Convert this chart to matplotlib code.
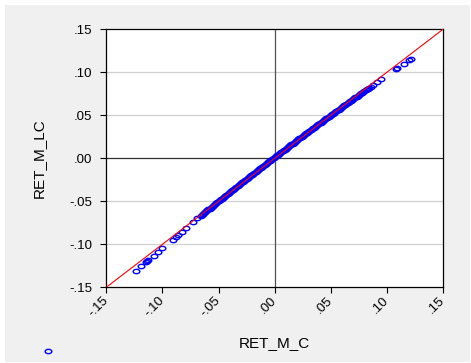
import matplotlib
matplotlib.use("Agg")
import matplotlib.pyplot as plt
from matplotlib.path import Path
from matplotlib.transforms import Affine2D
from matplotlib.patches import Rectangle

plt.rcParams["font.family"] = ["Liberation Sans", "DejaVu Sans"]

# RET_M_C (x) vs RET_M_LC (y)
# sparse tails
tail_x = [
    -0.1235, -0.1191, -0.1144, -0.1135, -0.1126, -0.1078, -0.1042, -0.1004,
    -0.0909, -0.0882, -0.0864, -0.0828, -0.0790, -0.0730, -0.0694,
    0.0857, 0.0880, 0.0915, 0.0946, 0.1079, 0.1091, 0.1153, 0.1198, 0.1218,
]
tail_y = [
    -0.1307, -0.1256, -0.1203, -0.1191, -0.1183, -0.1133, -0.1093, -0.1047,
    -0.0947, -0.0912, -0.0888, -0.0857, -0.0814, -0.0744, -0.0698,
    0.0833, 0.0856, 0.0887, 0.0919, 0.1035, 0.1047, 0.1097, 0.1143, 0.1158,
]
# dense central band
band_x = [
    -0.066, -0.065, -0.064, -0.063, -0.062, -0.061, -0.060, -0.059, -0.058,
    -0.057, -0.056, -0.055, -0.054, -0.053, -0.052, -0.051, -0.050, -0.049,
    -0.048, -0.047, -0.046, -0.045, -0.044, -0.043, -0.042, -0.041, -0.040,
    -0.039, -0.038, -0.037, -0.036, -0.035, -0.034, -0.033, -0.032, -0.031,
    -0.030, -0.029, -0.028, -0.027, -0.026, -0.025, -0.024, -0.023, -0.022,
    -0.021, -0.020, -0.019, -0.018, -0.017, -0.016, -0.015, -0.014, -0.013,
    -0.012, -0.011, -0.010, -0.009, -0.008, -0.007, -0.006, -0.005, -0.004,
    -0.003, -0.002, -0.001, 0.000, 0.001, 0.002, 0.003, 0.004, 0.005,
    0.006, 0.007, 0.008, 0.009, 0.010, 0.011, 0.012, 0.013, 0.014,
    0.015, 0.016, 0.017, 0.018, 0.019, 0.020, 0.021, 0.022, 0.023,
    0.024, 0.025, 0.026, 0.027, 0.028, 0.029, 0.030, 0.031, 0.032,
    0.033, 0.034, 0.035, 0.036, 0.037, 0.038, 0.039, 0.040, 0.041,
    0.042, 0.043, 0.044, 0.045, 0.046, 0.047, 0.048, 0.049, 0.050,
    0.051, 0.052, 0.053, 0.054, 0.055, 0.056, 0.057, 0.058, 0.059,
    0.060, 0.061, 0.062, 0.063, 0.064, 0.065, 0.066, 0.067, 0.068,
    0.069, 0.070, 0.071, 0.072, 0.073, 0.074, 0.075, 0.076, 0.077,
    0.078, 0.079, 0.080, 0.081, 0.082, 0.083, 0.084,
]
band_y = [
    -0.0670, -0.0659, -0.0648, -0.0637, -0.0627, -0.0616, -0.0606, -0.0595, -0.0585,
    -0.0574, -0.0563, -0.0553, -0.0542, -0.0531, -0.0521, -0.0510, -0.0500, -0.0489,
    -0.0479, -0.0468, -0.0458, -0.0447, -0.0437, -0.0426, -0.0416, -0.0405, -0.0395,
    -0.0385, -0.0374, -0.0364, -0.0354, -0.0343, -0.0333, -0.0322, -0.0312, -0.0302,
    -0.0292, -0.0281, -0.0271, -0.0260, -0.0250, -0.0240, -0.0230, -0.0219, -0.0209,
    -0.0199, -0.0189, -0.0179, -0.0169, -0.0158, -0.0148, -0.0138, -0.0128, -0.0118,
    -0.0108, -0.0097, -0.0087, -0.0077, -0.0067, -0.0057, -0.0047, -0.0037, -0.0027,
    -0.0017, -0.0007, 0.0003, 0.0013, 0.0023, 0.0033, 0.0043, 0.0053, 0.0063,
    0.0073, 0.0083, 0.0093, 0.0102, 0.0112, 0.0122, 0.0132, 0.0142, 0.0152,
    0.0162, 0.0172, 0.0181, 0.0191, 0.0201, 0.0211, 0.0221, 0.0231, 0.0240,
    0.0250, 0.0260, 0.0270, 0.0279, 0.0289, 0.0299, 0.0309, 0.0318, 0.0328,
    0.0337, 0.0347, 0.0357, 0.0367, 0.0376, 0.0386, 0.0395, 0.0405, 0.0414,
    0.0424, 0.0434, 0.0444, 0.0453, 0.0463, 0.0472, 0.0482, 0.0491, 0.0501,
    0.0510, 0.0520, 0.0529, 0.0539, 0.0548, 0.0558, 0.0567, 0.0577, 0.0586,
    0.0596, 0.0605, 0.0615, 0.0624, 0.0633, 0.0643, 0.0652, 0.0661, 0.0671,
    0.0680, 0.0690, 0.0699, 0.0708, 0.0717, 0.0727, 0.0736, 0.0746, 0.0755,
    0.0764, 0.0773, 0.0783, 0.0792, 0.0801, 0.0810, 0.0820,
]
ret_m_c = band_x + tail_x
ret_m_lc = band_y + tail_y

ticks = [-0.15, -0.10, -0.05, 0.00, 0.05, 0.10, 0.15]
tick_labels = ["-.15", "-.10", "-.05", ".00", ".05", ".10", ".15"]
grid_levels = [-0.10, -0.05, 0.05, 0.10]
lim = (-0.15, 0.15)

fig = plt.figure(figsize=(4.71, 3.63), dpi=100)
fig.patch.set_facecolor("white")
fig.add_artist(Rectangle((5 / 471, 1 / 363), 465 / 471, 357 / 363,
                         transform=fig.transFigure, facecolor="#f0f0f0",
                         edgecolor="none", zorder=-10))

ax = fig.add_axes([106.3 / 471, 1 - 287.3 / 363, 336.7 / 471, 258 / 363])
ax.set_facecolor("white")

for g in grid_levels:
    ax.axhline(g, color="#d0d0d0", lw=0.9, zorder=1)
ax.axhline(0, color="#303030", lw=0.9, zorder=2)
ax.axvline(0, color="#505050", lw=0.9, zorder=2)

ellipse = Path.unit_circle().transformed(Affine2D().scale(1.0, 0.65))
pts, = ax.plot(ret_m_c, ret_m_lc, linestyle="none", marker=ellipse,
               markersize=4.8, markerfacecolor="none", markeredgecolor="#0000ff",
               markeredgewidth=1.0, zorder=3)
ax.plot(lim, lim, color="red", lw=0.8, zorder=4)

ax.set_xlim(lim)
ax.set_ylim(lim)
ax.set_xticks(ticks)
ax.set_xticklabels(tick_labels, rotation=45, ha="right", va="center",
                   rotation_mode="anchor")
ax.set_yticks(ticks)
ax.set_yticklabels(tick_labels)
ax.tick_params(direction="out", length=4.3, width=0.8, labelsize=9.5,
               colors="black")
ax.tick_params(axis="y", pad=6)
ax.tick_params(axis="x", pad=4)
for s in ax.spines.values():
    s.set_linewidth(0.9)
    s.set_color("black")

ax.set_xlabel("RET_M_C", fontsize=11, labelpad=12)
ax.set_ylabel("RET_M_LC", fontsize=11, labelpad=17)

fig.legend([pts], [""], loc="center", bbox_to_anchor=(48 / 471, 1 - 351.7 / 363),
           frameon=False, handlelength=0, handletextpad=0, borderpad=0,
           markerscale=1.0)

fig.savefig("out.png", dpi=100)
